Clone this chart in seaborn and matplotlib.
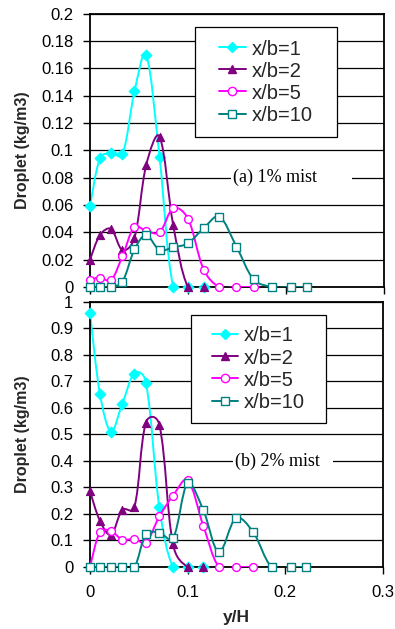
import numpy as np
import pandas as pd
import matplotlib
matplotlib.use("Agg")
import matplotlib.pyplot as plt
import seaborn as sns
from matplotlib.path import Path
from matplotlib.patches import PathPatch, Rectangle
from matplotlib.lines import Line2D

# ---------------- data ----------------
y_over_H = [0, 0.0102, 0.0215, 0.0331, 0.0454, 0.0573, 0.071, 0.085,
            0.1, 0.116, 0.132, 0.1495, 0.167, 0.186, 0.2055, 0.2215]

series_labels = ["x/b=1", "x/b=2", "x/b=5", "x/b=10"]

# (a) 1% mist
a_xb1 = [0.059, 0.094, 0.098, 0.097, 0.143, 0.170, 0.095, 0.0, 0.0, 0.0]
a_xb2 = [0.020, 0.038, 0.0425, 0.027, 0.036, 0.089, 0.110, 0.045, 0.0, 0.0]
a_xb5 = [0.0054, 0.0069, 0.005, 0.0226, 0.044, 0.041, 0.040, 0.0577, 0.050,
         0.0128, 0.0, 0.0, 0.0]
a_xb10 = [0.0, 0.0, 0.0, 0.004, 0.0275, 0.038, 0.027, 0.029, 0.032, 0.043,
          0.0515, 0.0295, 0.0056, 0.0, 0.0, 0.0]

# (b) 2% mist
b_xb1 = [0.959, 0.653, 0.510, 0.616, 0.730, 0.695, 0.225, 0.0, 0.0, 0.0]
b_xb2 = [0.286, 0.174, 0.121, 0.216, 0.225, 0.545, 0.537, 0.086, 0.0, 0.0]
b_xb5 = [0.0, 0.131, 0.136, 0.103, 0.106, 0.092, 0.191, 0.269, 0.328,
         0.156, 0.0, 0.0, 0.0]
b_xb10 = [0.0, 0.0, 0.0, 0.0, 0.0, 0.123, 0.130, 0.108, 0.316, 0.215,
          0.055, 0.185, 0.132, 0.0, 0.0, 0.0]

x_ticks = [0, 0.1, 0.2, 0.3]
x_tick_labels = ["0", "0.1", "0.2", "0.3"]
a_y_ticks = [0, 0.02, 0.04, 0.06, 0.08, 0.1, 0.12, 0.14, 0.16, 0.18, 0.2]
a_y_tick_labels = ["0", "0.02", "0.04", "0.06", "0.08", "0.1", "0.12",
                   "0.14", "0.16", "0.18", "0.2"]
b_y_ticks = [0, 0.1, 0.2, 0.3, 0.4, 0.5, 0.6, 0.7, 0.8, 0.9, 1.0]
b_y_tick_labels = ["0", "0.1", "0.2", "0.3", "0.4", "0.5", "0.6", "0.7",
                   "0.8", "0.9", "1"]

# ---------------- style ----------------
sns.set_theme(style="white")
plt.rcParams["font.family"] = ["Liberation Sans", "DejaVu Sans"]

colors = ["#00FFFF", "#800080", "#FF00FF", "#008080"]
markers = ["D", "^", "o", "s"]
filled = [True, True, False, False]
msize = [30, 34, 32, 32]

TICK_FS = 12
LEG_FS = 14.5


def smooth_path(ax, xs, ys):
    """Smoothed (Excel-like) Bezier path through the data points."""
    P = np.column_stack([xs, ys]).astype(float)
    D = ax.transData.transform(P)
    n = len(P)

    def dist(a, b):
        return np.sqrt(max(np.hypot(*(D[a] - D[b])), 1e-9))

    verts = [P[0]]
    codes = [Path.MOVETO]
    for i in range(n - 1):
        p1, p2 = P[i], P[i + 1]
        d12 = dist(i, i + 1)
        if i > 0:
            d01 = dist(i - 1, i)
            t1 = (p2 - P[i - 1]) * (2 * d12 / (d01 + d12)) / 6.0
        else:
            t1 = (p2 - p1) / 6.0
        if i + 2 < n:
            d23 = dist(i + 1, i + 2)
            t2 = (P[i + 2] - p1) * (2 * d12 / (d12 + d23)) / 6.0
        else:
            t2 = (p2 - p1) / 6.0
        verts += [p1 + t1, p2 - t2, p2]
        codes += [Path.CURVE4] * 3
    return Path(verts, codes)


def draw_panel(ax, data_list):
    for i, vals in enumerate(data_list):
        xs = y_over_H[:len(vals)]
        df = pd.DataFrame({"y/H": xs, "val": vals})
        patch = PathPatch(smooth_path(ax, df["y/H"], df["val"]), facecolor="none",
                          edgecolor=colors[i], lw=1.4, zorder=2 + 2 * i,
                          capstyle="round", joinstyle="round")
        ax.add_patch(patch)
        if filled[i]:
            sns.scatterplot(data=df, x="y/H", y="val", ax=ax, marker=markers[i],
                            s=msize[i], color=colors[i], edgecolor=colors[i],
                            linewidth=0.8, zorder=3 + 2 * i, legend=False,
                            clip_on=False)
        else:
            sns.scatterplot(data=df, x="y/H", y="val", ax=ax, marker=markers[i],
                            s=msize[i], color="white", edgecolor=colors[i],
                            linewidth=1.0, zorder=3 + 2 * i, legend=False,
                            clip_on=False)


def style_axes(ax, yticks, yticklabels, ylim, show_xlabels):
    ax.set_xlim(0, 0.3)
    ax.set_ylim(*ylim)
    ax.set_xticks(x_ticks)
    ax.set_yticks(yticks)
    ax.set_yticklabels(yticklabels, fontsize=TICK_FS)
    if show_xlabels:
        ax.set_xticklabels(x_tick_labels, fontsize=TICK_FS)
    else:
        ax.set_xticklabels([])
    ax.yaxis.grid(True, color="black", lw=0.9)
    ax.xaxis.grid(False)
    ax.set_axisbelow(True)
    for sp in ax.spines.values():
        sp.set_visible(True)
        sp.set_color("black")
        sp.set_linewidth(1.3)
    ax.tick_params(axis="both", which="major", direction="out", length=5,
                   width=1.0, color="black", left=True, bottom=True,
                   labelcolor="black")
    ax.tick_params(axis="y", pad=7)
    ax.tick_params(axis="x", pad=8)
    ax.set_ylabel("Droplet (kg/m3)", fontsize=11.5, fontweight="bold")
    ax.yaxis.set_label_coords(-0.205, 0.5)
    ax.set_facecolor("white")


def add_legend(ax, box):
    x0, y0, x1, y1 = box
    rect = Rectangle((x0, y0), x1 - x0, y1 - y0, transform=ax.transAxes,
                     facecolor="white", edgecolor="black", lw=0.9, zorder=20)
    ax.add_patch(rect)
    handles = []
    for i, lab in enumerate(series_labels):
        handles.append(Line2D([0], [0], color=colors[i], lw=1.4,
                              marker=markers[i], markersize=6 if i != 0 else 5.5,
                              markerfacecolor=colors[i] if filled[i] else "white",
                              markeredgecolor=colors[i], label=lab))
    leg = ax.legend(handles=handles, loc="center",
                    bbox_to_anchor=((x0 + x1) / 2, (y0 + y1) / 2),
                    bbox_transform=ax.transAxes, frameon=False,
                    fontsize=LEG_FS, handlelength=1.3, handletextpad=0.3,
                    labelspacing=0.15, borderpad=0.2)
    leg.set_zorder(21)


def add_note(ax, text, x, y, x_end, half_h):
    ax.add_patch(Rectangle((x - 0.002, y - half_h), x_end - x + 0.002, 2 * half_h,
                           facecolor="white", edgecolor="none", zorder=1.5))
    ax.text(x, y, text, fontsize=13, family=["Liberation Serif", "DejaVu Serif"],
            ha="left", va="center", zorder=1.6, color="black")


fig = plt.figure(figsize=(3.95, 6.29), dpi=100)
fig.patch.set_facecolor("white")
ax_a = fig.add_axes([0.2278, 0.5437, 0.7443, 0.4348])
ax_b = fig.add_axes([0.2278, 0.0986, 0.7418, 0.4213])

# limits first so the smoothing can use the final scales
ax_a.set_xlim(0, 0.3); ax_a.set_ylim(0, 0.2)
ax_b.set_xlim(0, 0.3); ax_b.set_ylim(0, 1.0)

draw_panel(ax_a, [a_xb1, a_xb2, a_xb5, a_xb10])
draw_panel(ax_b, [b_xb1, b_xb2, b_xb5, b_xb10])

style_axes(ax_a, a_y_ticks, a_y_tick_labels, (0, 0.2), False)
style_axes(ax_b, b_y_ticks, b_y_tick_labels, (0, 1.0), True)
ax_a.set_xlabel("")
ax_b.set_xlabel("y/H", fontsize=12.5, fontweight="bold", labelpad=7)

add_legend(ax_a, (0.357, 0.548, 0.840, 0.951))
add_legend(ax_b, (0.345, 0.543, 0.805, 0.951))

add_note(ax_a, "(a) 1% mist", 0.146, 0.08, 0.267, 0.006)
add_note(ax_b, "(b) 2% mist", 0.148, 0.40, 0.249, 0.03)

fig.savefig("out.png", dpi=100, facecolor="white")
